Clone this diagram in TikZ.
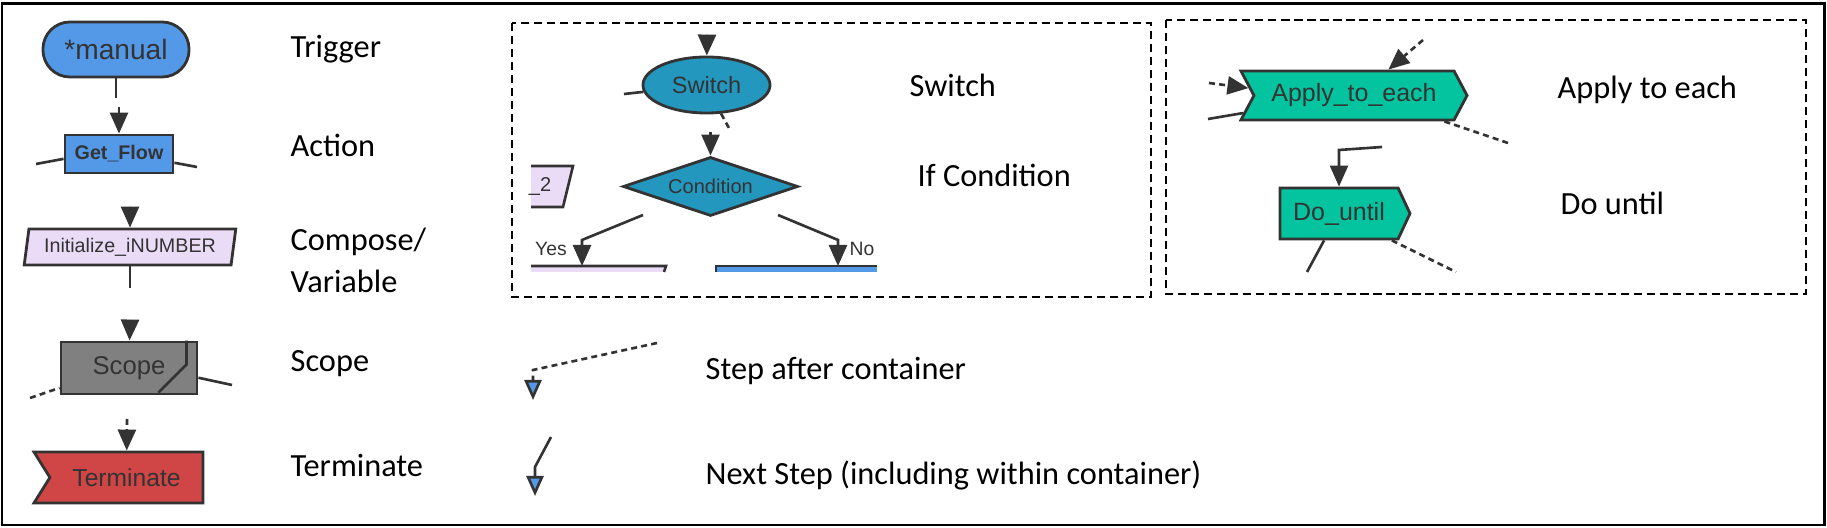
\documentclass[tikz,border=0pt]{standalone}
\usepackage{fontspec}
\setmainfont{Carlito}
\newfontfamily\arialf{Liberation Sans}
\usetikzlibrary{arrows.meta,shapes.geometric,shapes.symbols}
\definecolor{flowblue}{RGB}{84,153,232}
\definecolor{lilac}{RGB}{234,220,247}
\definecolor{scopegray}{RGB}{128,128,128}
\definecolor{termred}{RGB}{208,70,70}
\definecolor{switchblue}{RGB}{36,151,190}
\definecolor{loopgreen}{RGB}{4,196,160}
\definecolor{ink}{RGB}{51,51,51}

\begin{document}
\begin{tikzpicture}[x=0.01cm,y=-0.01cm,
    box/.style={draw=ink,line width=0.8pt,inner sep=0pt,text=ink},
    stub/.style={draw=ink,line width=0.75pt},
    arr/.style={stub,-{Triangle[length=0.21cm,width=0.18cm]}},
    bluearr/.style={stub,-{Triangle[length=0.2cm,width=0.17cm,fill=flowblue]}},
    dsh/.style={dash pattern=on 1.7pt off 1.2pt},
    lbl/.style={anchor=base west,inner sep=0pt,font=\fontsize{9.2}{12.2}\selectfont}]
    \useasboundingbox (0,0) rectangle (1827,528);
    \draw[line width=0.85pt] (2,4) rectangle (1824,525);
    \draw[line width=0.7pt,dash pattern=on 2.3pt off 1.4pt] (512,23) rectangle (1151,297);
    \draw[line width=0.7pt,dash pattern=on 2.3pt off 1.4pt] (1166,20) rectangle (1806,294);

    \node[box,fill=flowblue,rounded corners=0.27cm,minimum width=1.46cm,minimum height=0.55cm,font=\arialf\fontsize{8}{9}\selectfont] (Trig) at (116,49.5) {*manual};
    \node[box,fill=flowblue,minimum width=1.08cm,minimum height=0.38cm,font=\arialf\bfseries\fontsize{5.6}{6}\selectfont] (Act) at (119,154) {Get\_Flow};
    \node[box,fill=lilac,trapezium,trapezium left angle=77.5,trapezium right angle=102.5,trapezium stretches=true,minimum width=2.12cm,minimum height=0.36cm,font=\arialf\fontsize{5.6}{6}\selectfont] (Var) at (130,247) {Initialize\_iNUMBER};
    \node[box,fill=scopegray,minimum width=1.36cm,minimum height=0.52cm,font=\arialf\fontsize{7.3}{8}\selectfont] (Scp) at (129,368) {Scope};
    \node[box,fill=termred,signal,signal to=nowhere,signal from=west,signal pointer angle=116,minimum width=1.69cm,minimum height=0.51cm,font=\arialf\fontsize{7}{8}\selectfont] (Term) at (126.5,477.5) {Terminate};

    \coordinate (a1) at (119,107);
    \coordinate (a2) at (36,164);
    \coordinate (a3) at (197,167);
    \coordinate (a4) at (130,207);
    \coordinate (a5) at (130,320);
    \coordinate (s1) at (30,398);
    \coordinate (s2) at (232,385);
    \coordinate (a6) at (127,419);
    \draw[stub] (Trig.south) -- ++(0,20);
    \draw[arr] (a1) -- (Act);
    \draw[stub] (a2) -- (Act.185);
    \draw[stub] (Act.-9) -- (a3);
    \draw[arr] (a4) -- (Var);
    \draw[stub] (Var.south) -- ++(0,22);
    \draw[arr] (a5) -- (Scp);
    \draw[stub] ([xshift=-0.12cm]Scp.north east) -- ++(0,24) -- ++(-28,28);
    \draw[stub,dsh] (s1) -- (Scp.196);
    \draw[stub] (Scp.-8) -- (s2);
    \draw[arr,dsh] (a6) -- (Term);

    \node[lbl] (LTrig) at (290,58) {Trigger};
    \node[lbl] (LAct) at (290,157) {Action};
    \node[lbl,align=left] (LVar) at (290,293) {Compose/\\Variable};
    \node[lbl] (LScp) at (290,372) {Scope};
    \node[lbl] (LTerm) at (290,477) {Terminate};

    \node[box,fill=switchblue,ellipse,minimum width=1.27cm,minimum height=0.56cm,font=\arialf\fontsize{6.7}{7}\selectfont] (Sw) at (706.5,85) {Switch};
    \node[box,fill=switchblue,diamond,aspect=3,minimum width=1.75cm,minimum height=0.59cm,font=\arialf\fontsize{5.7}{6}\selectfont] (Cond) at (710.5,186.5) {Condition};
    \fill[lilac] (531,166) -- (573,166) -- (563,207) -- (531,207) -- cycle;
    \draw[stub] (531,166) -- (573,166) -- (563,207) -- (531,207);
    \node[text=ink,inner sep=0pt,font=\arialf\fontsize{5.7}{6}\selectfont] (P2) at (540,187) {\_2};
    \fill[lilac] (531,266) -- (666,266) -- (664,272) -- (531,272) -- cycle;
    \draw[stub] (531,266) -- (666,266) -- (664,272);
    \fill[flowblue] (716,266) rectangle (877,272);
    \draw[stub] (716,272) -- (716,266) -- (877,266);
    \coordinate (b1) at (707,35);
    \coordinate (b2) at (624,94);
    \coordinate (b3) at (730,130);
    \coordinate (b4) at (710.5,132);
    \coordinate (c1) at (643,215);
    \coordinate (c2) at (778,215);
    \coordinate (yT) at (582,266);
    \coordinate (nT) at (838,266);
    \draw[arr] (b1) -- (Sw);
    \draw[stub] (b2) -- (Sw);
    \draw[stub,dsh] (Sw.-63) -- (b3);
    \draw[arr] (b4) -- (Cond);
    \draw[arr] (c1) -- ++(-61,25) -- (yT);
    \draw[arr] (c2) -- ++(60,25) -- (nT);
    \node[text=ink,inner sep=0pt,font=\arialf\fontsize{5.5}{6}\selectfont] (Yes) at (551,249) {Yes};
    \node[text=ink,inner sep=0pt,font=\arialf\fontsize{5.5}{6}\selectfont] (No) at (862,249) {No};
    \node[lbl] (LSw) at (909,97) {Switch};
    \node[lbl] (LCond) at (917,187) {If Condition};

    \node[box,fill=loopgreen,signal,signal to=east,signal from=west,signal pointer angle=124,minimum width=2.26cm,minimum height=0.49cm,font=\arialf\fontsize{7.1}{8}\selectfont] (Ap) at (1354,95.5) {Apply\_to\_each};
    \node[box,fill=loopgreen,signal,signal to=east,signal pointer angle=130,minimum width=1.30cm,minimum height=0.51cm,font=\arialf\fontsize{7.1}{8}\selectfont] (Du) at (1339,213.5) {Do\_until};
    \coordinate (d1) at (1423,40);
    \coordinate (d2) at (1209,83);
    \coordinate (d3) at (1208,119);
    \coordinate (d4) at (1508,143);
    \coordinate (d5) at (1382,147);
    \coordinate (d6) at (1307,272);
    \coordinate (d7) at (1456,272);
    \draw[arr,dsh] (d1) -- (Ap.37);
    \draw[arr,dsh] (d2) -- (Ap.176);
    \draw[stub] (d3) -- (Ap.189);
    \draw[stub,dsh] (Ap.-16) -- (d4);
    \draw[arr] (d5) -- ++(-43,3) -- (Du.north);
    \draw[stub] (Du.241) -- (d6);
    \draw[stub,dsh] (Du.-27) -- (d7);
    \node[lbl] (LAp) at (1557,99) {Apply to each};
    \node[lbl] (LDu) at (1560,215) {Do until};

    \coordinate (e1) at (657,343);
    \coordinate (e2) at (533,400);
    \coordinate (e3) at (551,437);
    \coordinate (e4) at (535,496);
    \draw[bluearr,dsh] (e1) -- ++(-124,27) -- (e2);
    \draw[bluearr] (e3) -- ++(-16,30) -- (e4);
    \node[lbl] (LAfter) at (705,380) {Step after container};
    \node[lbl] (LNext) at (705,485) {Next Step (including within container)};
\end{tikzpicture}
\end{document}
